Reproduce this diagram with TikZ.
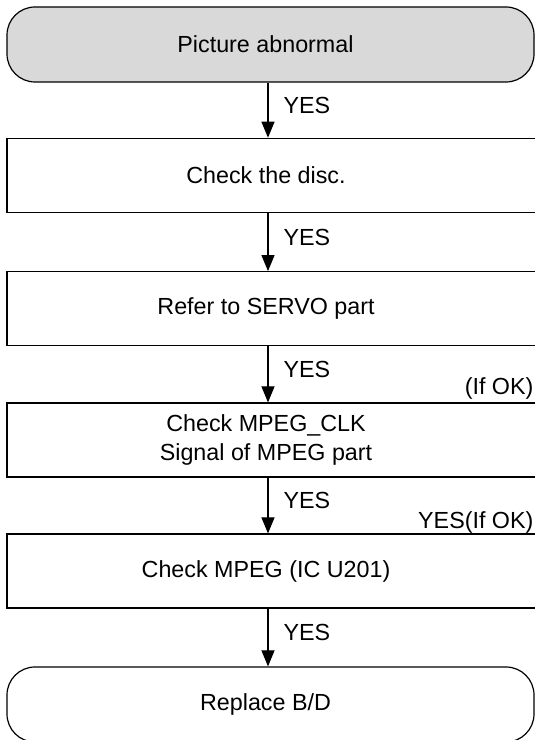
\documentclass[tikz,border=0pt]{standalone}
\usepackage{fontspec}
\setmainfont{Liberation Sans}
\usetikzlibrary{arrows.meta}

\begin{document}
\begin{tikzpicture}[x=1pt,y=1pt,
    font=\fontsize{23.3}{29.5}\selectfont,
    line width=1.2pt,
    endbox/.style={draw, rounded corners=28pt, minimum width=527pt, minimum height=75pt, inner sep=0pt},
    stepbox/.style={draw, minimum width=539pt, minimum height=74pt, inner sep=0pt},
    endtext/.style={label={[align=center, inner sep=0pt, xshift=-5pt]center:#1}},
    steptext/.style={label={[align=center, inner sep=0pt, xshift=-10.5pt]center:#1}},
    flow/.style={-{Triangle[length=16pt,width=13pt]}},
    yes/.style={midway, right=15pt, yshift=5pt, inner sep=0pt}]

    \useasboundingbox (0,0) rectangle (535,740);
    \clip (0,0) rectangle (535,740);

    \node[endbox, fill=black!15, endtext={Picture abnormal}] (start) at (270.5,695.5) {};
    \node[stepbox, steptext={Check the disc.}] (disc) at (276.5,564.7) {};
    \node[stepbox, steptext={Refer to SERVO part}] (servo) at (276.5,431.3) {};
    \node[stepbox, steptext={Check MPEG\_CLK\\Signal of MPEG part}] (clk) at (276.5,300) {};
    \node[stepbox, steptext={Check MPEG (IC U201)}] (mpeg) at (276.5,169) {};
    \node[endbox, endtext={Replace B/D}] (finish) at (270.5,35.5) {};

    \coordinate (ax) at (268,0);

    \draw[flow] (start.south -| ax) -- (disc.north -| ax) node[yes] (yes1) {YES};
    \draw[flow] (disc.south -| ax) -- (servo.north -| ax) node[yes] (yes2) {YES};
    \draw[flow] (servo.south -| ax) -- (clk.north -| ax) node[yes] (yes3) {YES};
    \draw[flow] (clk.south -| ax) -- (mpeg.north -| ax) node[yes] (yes4) {YES};
    \draw[flow] (mpeg.south -| ax) -- (finish.north -| ax) node[yes] (yes5) {YES};

    \node[anchor=base east, inner sep=0pt] (ifok1) at (534,345) {(If OK)};
    \node[anchor=base east, inner sep=0pt] (ifok2) at (534,211) {YES(If OK)};

\end{tikzpicture}
\end{document}
